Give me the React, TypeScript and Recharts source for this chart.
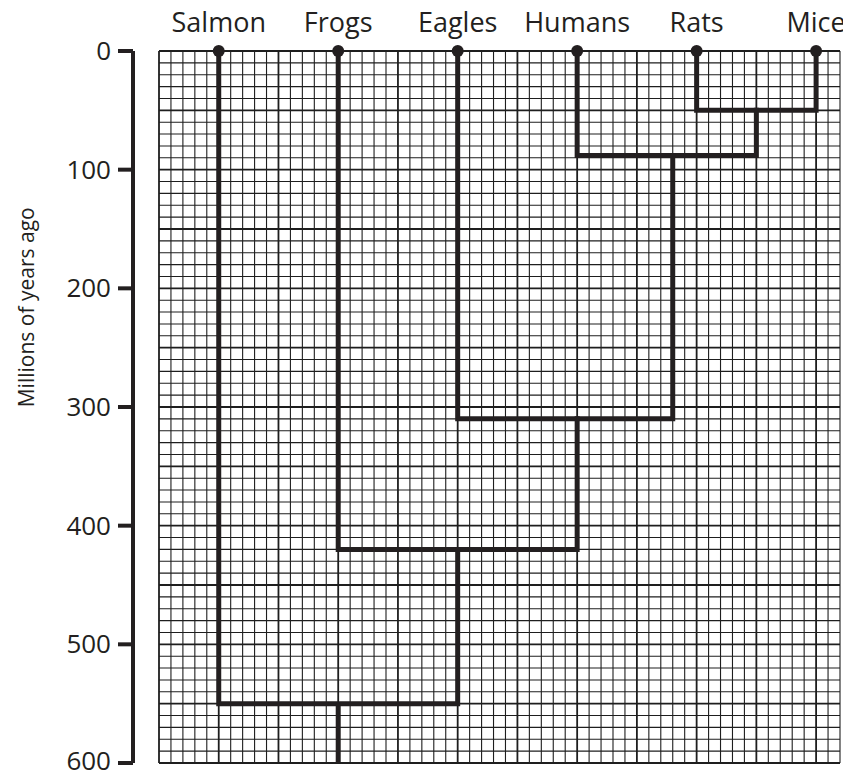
import React from 'react';
import { ComposedChart, XAxis, YAxis, Line, Scatter, ReferenceLine, Label } from 'recharts';

// Leaves (species) and their horizontal positions (grid cells)
const species = ['Salmon', 'Frogs', 'Eagles', 'Humans', 'Rats', 'Mice'];
const speciesX = [5, 15, 25, 35, 45, 55];

// Y axis ticks (millions of years ago)
const yTicks = [0, 100, 200, 300, 400, 500, 600];

// Branch joins: left child, right child, join age
const joinLeftX = [45, 35, 25, 15, 5];
const joinLeftTop = [0, 0, 0, 0, 0];
const joinRightX = [55, 50, 43, 35, 25];
const joinRightTop = [0, 50, 88, 310, 420];
const joinAge = [50, 88, 310, 420, 550];
const rootX = 15;
const rootTop = 550;
const rootBottom = 600;

// Graph-paper grid
const xMax = 57;
const gridX = Array.from({ length: xMax + 1 }, (_, i) => i);
const gridY = Array.from({ length: 61 }, (_, i) => i * 10);

const INK = '#231f20';
const GRID = '#1e1e1e';
const FONT = "'Open Sans', sans-serif";

const branches = joinAge.map((age, i) => [
  { x: joinLeftX[i], y: joinLeftTop[i] },
  { x: joinLeftX[i], y: age },
  { x: joinRightX[i], y: age },
  { x: joinRightX[i], y: joinRightTop[i] },
]);
const rootStem = [
  { x: rootX, y: rootTop },
  { x: rootX, y: rootBottom },
];
const leafPoints = species.map((name, i) => ({ name, x: speciesX[i], y: 0 }));

const renderTitle = (props: any) => {
  const vb = props.viewBox || {};
  const cx = vb.x + 34;
  const cy = vb.y + vb.height * 0.36;
  return (
    <text
      x={cx}
      y={cy}
      transform={`rotate(-90 ${cx} ${cy})`}
      textAnchor="middle"
      fontSize={21}
      fontFamily={FONT}
      fill={INK}
    >
      Millions of years ago
    </text>
  );
};

const YTick = (props: any) => {
  const { x, y, payload, index } = props;
  const last = index === yTicks.length - 1;
  return (
    <text
      x={x}
      y={y}
      dy={last ? 7 : 9}
      textAnchor="end"
      fontSize={26}
      fontFamily={FONT}
      fill={INK}
    >
      {payload.value}
    </text>
  );
};

export default function App() {
  return (
    <div style={{ margin: '-8px 0 0 -8px', width: 851, height: 778 }}>
      <ComposedChart
        width={851}
        height={778}
        margin={{ top: 0, right: 11, bottom: 15, left: 0 }}
      >
        <XAxis xAxisId="grid" dataKey="x" type="number" domain={[0, xMax]} hide />
        <XAxis
          xAxisId="labels"
          orientation="top"
          dataKey="x"
          type="number"
          domain={[0, xMax]}
          ticks={speciesX}
          interval={0}
          tickFormatter={(v: number) => species[speciesX.indexOf(v)] ?? ''}
          tickLine={false}
          axisLine={false}
          tickSize={0}
          tickMargin={19}
          height={51}
          tick={{ fontSize: 27, fontFamily: FONT, fill: INK }}
        />
        <YAxis
          yAxisId="grid"
          dataKey="y"
          type="number"
          domain={[0, 600]}
          reversed
          width={26}
          tick={false}
          tickLine={false}
          axisLine={false}
        />
        <YAxis
          yAxisId="vis"
          dataKey="y"
          type="number"
          domain={[0, 600]}
          reversed
          ticks={yTicks}
          interval={0}
          width={133}
          tickSize={15}
          tickMargin={7}
          axisLine={{ stroke: INK, strokeWidth: 4 }}
          tickLine={{ stroke: INK, strokeWidth: 4 }}
          tick={<YTick />}
        >
          <Label content={renderTitle} />
        </YAxis>

        {gridX.map((v) => (
          <ReferenceLine
            key={`gx${v}`}
            x={v}
            xAxisId="grid"
            yAxisId="vis"
            stroke={GRID}
            strokeWidth={v % 5 === 0 ? 1.8 : 1.1}
          />
        ))}
        {gridY.map((v) => (
          <ReferenceLine
            key={`gy${v}`}
            y={v}
            xAxisId="grid"
            yAxisId="vis"
            stroke={GRID}
            strokeWidth={v % 50 === 0 ? 1.8 : 1.1}
          />
        ))}

        {branches.map((pts, i) => (
          <Line
            key={`b${i}`}
            data={pts}
            dataKey="y"
            xAxisId="grid"
            yAxisId="vis"
            type="linear"
            stroke={INK}
            strokeWidth={5}
            strokeLinejoin="miter"
            strokeLinecap="square"
            dot={false}
            activeDot={false}
            isAnimationActive={false}
          />
        ))}
        <Line
          data={rootStem}
          dataKey="y"
          xAxisId="grid"
          yAxisId="vis"
          type="linear"
          stroke={INK}
          strokeWidth={5}
          dot={false}
          activeDot={false}
          isAnimationActive={false}
        />
        <Scatter
          data={leafPoints}
          dataKey="y"
          xAxisId="labels"
          yAxisId="vis"
          isAnimationActive={false}
          shape={(p: any) => <circle cx={p.cx} cy={p.cy} r={6} fill={INK} />}
        />
      </ComposedChart>
    </div>
  );
}
